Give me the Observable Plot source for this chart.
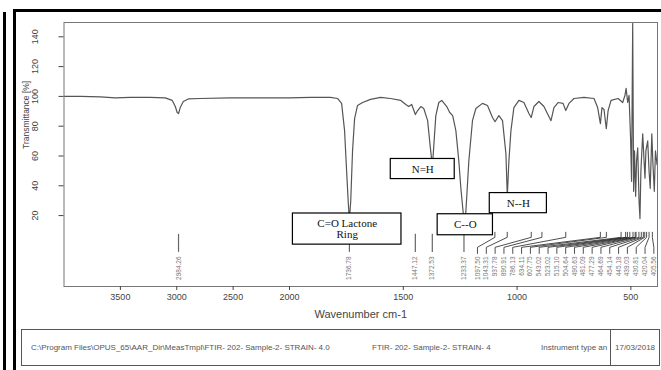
<!DOCTYPE html>
<html><head><meta charset="utf-8">
<script src="https://cdn.jsdelivr.net/npm/d3@7"></script>
<script src="https://cdn.jsdelivr.net/npm/@observablehq/plot@0.6"></script>
<style>
body{margin:0;background:#fff;}
#wrap{position:relative;width:661px;height:370px;overflow:hidden;background:#fff;font-family:"Liberation Sans",Arial,sans-serif;}
.b{position:absolute;background:#000;}
#footer{position:absolute;left:21px;top:329px;width:639px;height:37px;border:1px solid #555;box-sizing:border-box;}
#footer .t{position:absolute;top:13px;font-size:8px;color:#555;white-space:nowrap;}
#footer .d{position:absolute;left:588px;top:0;width:1px;height:35px;background:#555;}
</style></head>
<body>
<div id="wrap">
<div id="chart" style="position:absolute;left:0;top:0"></div>
<div id="footer"></div>
<div class="b" style="left:3px;top:12px;width:2.5px;height:358px"></div>
<div class="b" style="left:12.5px;top:9px;width:3.5px;height:361px"></div>
<div class="b" style="left:12.5px;top:9px;width:649px;height:3px"></div>
</div>
<script>
// ---- data ----
const wavenumber = [4000,3854,3677,3544,3412,3235,3102,3040,3013,2996,2984,2969,2942,2898,2792,2527,2261,2000,
 1908,1820,1789,1771,1758,1749,1742,1737,1731,1723,1714,1701,1679,1644,1600,1556,1511,1489,1476,1463,1447,1437,1423,1410,
 1393,1382,1372,1366,1357,1344,1331,1309,1296,1283,1269,1256,1247,1233,1225,1212,1196,1181,1152,1130,1108,1097,1080,1064,
 1049,1043,1036,1027,1014,992,970,948,938,926,904,882,851,838,820,798,786,772,750,706,662,646,634,627,618,608,600,587,556,
 536,526,521,514,508,501,497,492,488,484,479,475,470,464,460,456,448,442,438,434,426,420,415,408,403,397,392,385];
const transmittance = [100,100,99.7,99,99.3,99.3,99,97.3,93.2,89.2,88.5,92.5,96.6,98.3,98.6,99,99,99,
 99.3,99.3,98.6,95.3,77,49.8,29.5,17,29.5,63.4,85.1,93.9,95.9,98,99.3,98.6,97.3,94.6,93.2,94.6,87.8,90.5,93.2,91.9,
 83.7,66.8,53,66.8,87.1,95.9,97.3,93.2,89.2,87.1,77,56.6,38.3,16,22.7,56.6,83.7,91.9,95.3,93.9,85.8,83,87.1,83.7,
 61.4,33,56.6,77,92.5,97.3,95.9,88.5,85.8,93.2,96.6,93.2,83.7,92.5,95.9,95.3,90.5,95.3,98.6,99.3,98.6,92.5,81.7,92.5,91.2,78.3,90.5,97.3,98.6,
 95.9,100.7,105.4,95.9,100.7,70.2,43,149,36.3,63.4,33,56.6,65.4,29.5,18,49.8,74.9,56.6,45.1,63.4,70.2,49.8,38.3,74.9,54.2,36.3,63.4,54.2];

const xTicks = [3500,3000,2500,2000,1500,1000,500];
const yTicks = [20,40,60,80,100,120,140];
const xTitle = "Wavenumber cm-1";
const yTitle = "Transmittance [%]";

// peak labels: isolated ones and the crowded fan
const peaksSingle = ["2984.26","1736.78","1447.12","1372.53","1233.37"];
const peaksFan = ["1097.50","1043.31","937.78","890.91","786.13","634.11","607.75","543.02","523.02","515.10","504.64",
 "490.63","481.09","477.29","464.69","454.14","445.18","439.03","430.81","420.04","405.56"];

// annotation boxes (wavenumber span, transmittance span)
const annLabels = ["C=O Lactone\nRing","N=H","C--O","N--H"];
const annW1 = [1985,1555,1349,1120];
const annW2 = [1508,1274,1106,869];
const annV1 = [21.4,58,20.9,35.1];
const annV2 = [0.5,44.5,6.8,21.6];

const footerTexts = ["C:\\Program Files\\OPUS_65\\AAR_Dir\\MeasTmpl\\FTIR- 202- Sample-2- STRAIN- 4.0",
 "FTIR- 202- Sample-2- STRAIN- 4", "Instrument type an", "17/03/2018"];

// ---- build ----
const spectrum = wavenumber.map((w, i) => ({w, v: transmittance[i]}));
const ann = annLabels.map((t, i) => ({t, w1: annW1[i], w2: annW2[i], v1: annV1[i], v2: annV2[i]}));

// fan layout: label slots evenly spread over the low-wavenumber end
const slotStart = 1174, slotEnd = 399;
const fan = peaksFan.map((s, i) => ({s, peak: +s, slot: slotStart - i * (slotStart - slotEnd) / (peaksFan.length - 1)}));
const vTop = 8.8, vK1 = 5.4, vK2 = -1.3, vBot = -5.4, vText = -7.4;
const leaders = fan.flatMap(d => [
  {id: d.s, w: d.peak, v: vTop}, {id: d.s, w: d.peak, v: vK1},
  {id: d.s, w: d.slot, v: vK2}, {id: d.s, w: d.slot, v: vBot}]);

const chart = Plot.plot({
  width: 661, height: 320,
  marginLeft: 63.5, marginRight: 4, marginTop: 22, marginBottom: 34,
  style: {background: "transparent", fontFamily: "'Liberation Sans', Arial, sans-serif"},
  x: {type: "linear", domain: [4000, 2000, 383], range: [63.5, 289, 657]},
  y: {type: "linear", domain: [-27.6, 149.6], range: [286, 22]},
  marks: [
    Plot.line(spectrum, {x: "w", y: "v", stroke: "#555", strokeWidth: 1.2, clip: true}),
    Plot.ruleX(peaksSingle.map(Number), {x: d => d, y1: 7.4, y2: -4.7, stroke: "#666", strokeWidth: 1.2}),
    Plot.text(peaksSingle, {x: d => +d, y: vText, text: d => d, rotate: -90, textAnchor: "end", fontSize: 6.5, fill: "#777"}),
    Plot.line(leaders, {x: "w", y: "v", z: "id", stroke: "#222", strokeWidth: 0.8}),
    Plot.text(fan, {x: "slot", y: vText, text: "s", rotate: -90, textAnchor: "end", fontSize: 6.5, fill: "#777"}),
    Plot.rect(ann, {x1: "w1", x2: "w2", y1: "v1", y2: "v2", fill: "white", stroke: "black", strokeWidth: 1.2}),
    Plot.text(ann, {x: d => (d.w1 + d.w2) / 2, y: d => (d.v1 + d.v2) / 2, text: "t", fontFamily: "'Liberation Serif', 'Times New Roman', serif", fontSize: 11, lineHeight: 1.0, fill: "#111"}),
    Plot.frame({stroke: "#777", strokeWidth: 1}),
    Plot.axisX({ticks: xTicks, tickFormat: d => String(d), tickSize: 4, tickPadding: 3, fontSize: 9, color: "#444",
      label: xTitle, labelAnchor: "center", labelArrow: "none", labelOffset: 31}),
    Plot.axisY({ticks: yTicks, tickFormat: d => String(d), tickSize: 5, tickPadding: 21, tickRotate: -90, fontSize: 9, color: "#444", label: null}),
    Plot.text([yTitle], {frameAnchor: "left", y: () => 87.6, dx: -37.5, rotate: -90, textAnchor: "middle", fontSize: 8.5, fill: "#444"})
  ]
});
chart.querySelectorAll("g[aria-label='x-axis label'] text, g[aria-label='x-axis label']").forEach(e => e.setAttribute("font-size", "11"));
document.getElementById("chart").appendChild(chart);

// footer
const footer = document.getElementById("footer");
const fpos = [9, 350, 519, 593];
footerTexts.forEach((t, i) => {
  const s = document.createElement("span");
  s.className = "t";
  s.textContent = t;
  s.style.left = fpos[i] + "px";
  footer.appendChild(s);
});
const div = document.createElement("div"); div.className = "d"; footer.appendChild(div);
</script>
</body></html>
